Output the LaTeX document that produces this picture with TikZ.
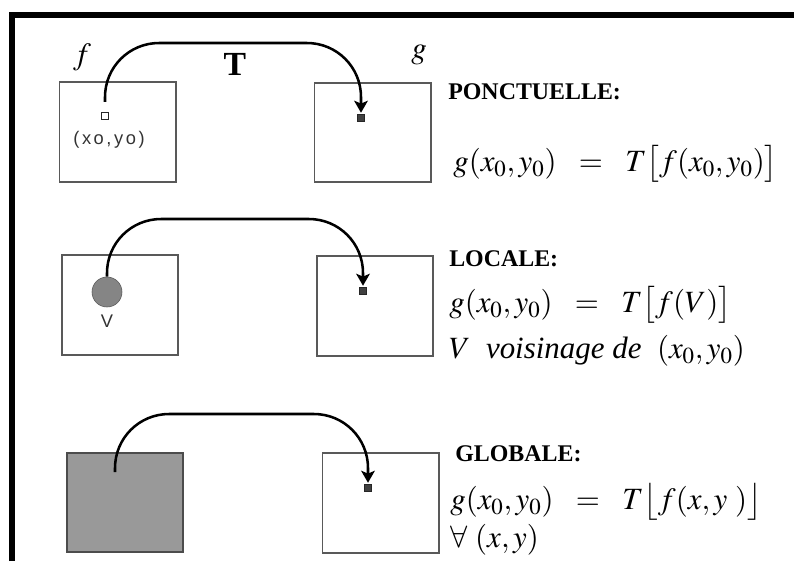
\documentclass[tikz,border=0pt]{standalone}
\usepackage{mathptmx}
\usepackage{fontspec}
\setmainfont{Liberation Serif}
\setsansfont{Liberation Sans}
\usetikzlibrary{arrows.meta}

\begin{document}
\begin{tikzpicture}[x=0.025cm, y=-0.025cm,
  frame/.style={line width=0.15cm, line join=miter},
  img/.style={draw=black!65, line width=1.4pt, minimum width=2.9cm, minimum height=2.48cm, inner sep=0pt},
  pix/.style={draw=black!85, fill=black!75, line width=0.6pt, minimum size=0.17cm, inner sep=0pt},
  mapping/.style={-{Stealth[length=3mm,width=3.4mm,inset=0.7mm]}, line width=1.8pt, rounded corners=1.35cm},
  kind/.style={anchor=west, inner sep=0pt, font=\fontsize{17}{20}\selectfont\bfseries},
  eq/.style={anchor=west, inner sep=0pt, font=\fontsize{22}{25}\selectfont},
  tag/.style={inner sep=0pt, text=black!80, font=\sffamily\fontsize{13}{15}\selectfont\addfontfeature{LetterSpace=14}},
]
\useasboundingbox (0,0) rectangle (794,561);
\draw[frame] (12,561) -- (12,15) -- (794,15);

% ponctuelle
\node[img] (fA) at (117.5,132) {};
\node[img] (gA) at (372.5,132.5) {};
\node[pix, fill=white, line width=1pt] (srcA) at (105,116) {};
\node[pix] (dstA) at (361,118) {};
\node[tag] (ptA) at (109,140) {(xo,yo)};
\node[font=\fontsize{22}{24}\selectfont] (fName) at (82,57) {$f$};
\node[font=\fontsize{22}{24}\selectfont] (gName) at (419,55) {$g$};
\node[font=\fontsize{24}{26}\selectfont\bfseries] (tName) at (235,64) {T};
\coordinate (topA) at (235,43);
\draw[mapping, shorten <=0.25cm, shorten >=1pt] (srcA.north) |- (topA) -| (dstA.north);
\node[kind] (ponct) at (448,92) {PONCTUELLE:};
\node[eq] (eqA) at (453,164) {$g(x_0,y_0)\enspace=\enspace T\big[f(x_0,y_0)\big]$};

% locale
\node[img] (fB) at (120,305) {};
\node[img] (gB) at (375,306) {};
\node[circle, draw=black!65, fill=black!48, minimum size=0.75cm, inner sep=0pt] (srcB) at (107,292) {};
\node[pix] (dstB) at (363,291) {};
\node[tag] (vB) at (107,321) {V};
\coordinate (topB) at (235,219);
\draw[mapping, shorten >=1pt] (srcB.north) |- (topB) -| (dstB.north);
\node[kind] (locale) at (449,259) {LOCALE:};
\node[eq] (eqB) at (449,305) {$g(x_0,y_0)\enspace=\enspace T\big[f(V)\big]$};
\node[eq] (voisB) at (449,351) {$V\enspace\textit{voisinage de}\enspace(x_0,y_0)$};

% globale
\node[img, fill=black!40, draw=black!70] (fC) at (125,502.5) {};
\node[img] (gC) at (380.5,503) {};
\coordinate (srcC) at (115,472);
\node[pix] (dstC) at (368,488) {};
\coordinate (topC) at (240,414);
\draw[mapping, shorten >=1pt] (srcC) |- (topC) -| (dstC.north);
\node[kind] (globale) at (455,454) {GLOBALE:};
\node[eq] (eqC) at (450,502) {$g(x_0,y_0)\enspace=\enspace T\big\lfloor f(x,y\ )\big\rfloor$};
\node[eq] (allC) at (450,540) {$\forall\ (x,y)$};
\end{tikzpicture}
\end{document}
